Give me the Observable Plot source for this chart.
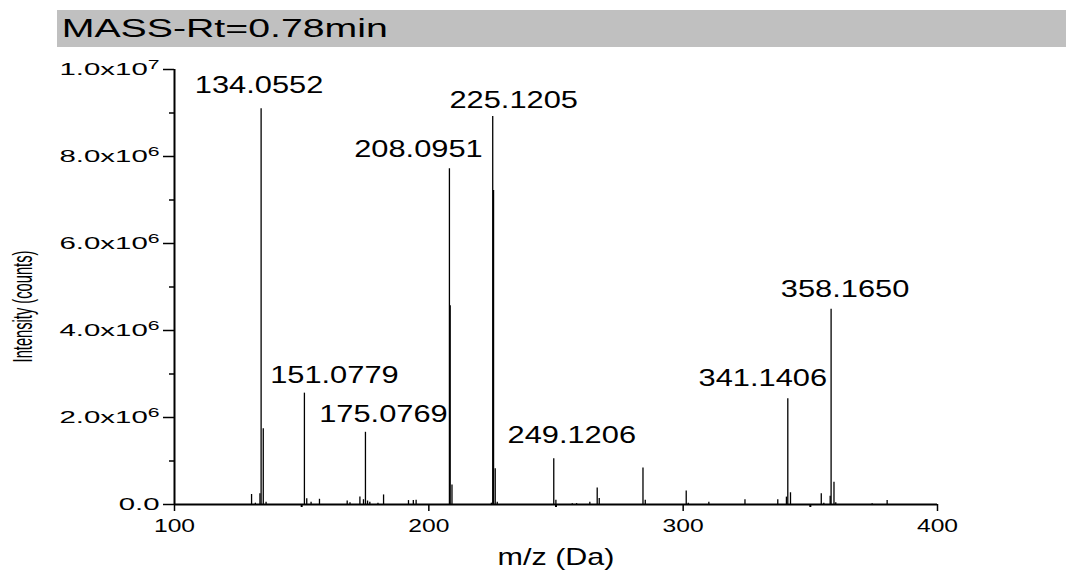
<!DOCTYPE html>
<html>
<head>
<meta charset="utf-8">
<script src="https://cdn.jsdelivr.net/npm/d3@7"></script>
<script src="https://cdn.jsdelivr.net/npm/@observablehq/plot@0.6"></script>
<style>
  html, body { margin: 0; padding: 0; background: #fff; width: 1066px; height: 572px; overflow: hidden; }
  #title { margin: 10px 0 0 57px; height: 37px; background: #c0c0c0; overflow: visible; white-space: nowrap; }
  #title span { display: inline-block; font-family: "Liberation Sans", Arial, sans-serif; font-size: 25px; line-height: 37px; color: #000; padding-left: 3px; transform: scaleX(1.57); transform-origin: 0 50%; }
  #chart { margin-top: 3px; }
  #chart svg { display: block; }
</style>
</head>
<body>
<div id="title"><span>MASS-Rt=0.78min</span></div>
<div id="chart"></div>
<script>
// ---- data (m/z in Da, intensity in counts) ----
const peakMz = [130.3, 131.8, 133.6, 134.0552, 134.9, 136.0,
  151.0779, 152.0, 153.7, 157.0, 167.9, 169.0, 172.9, 174.3, 175.0769, 175.9, 176.8, 180.0, 182.2,
  192.0, 193.9, 195.0, 208.0951, 208.4, 209.1, 224.6, 225.1205, 225.45, 226.1, 226.9,
  249.1206, 249.96, 256.4, 258.1, 263.3, 266.2, 267.0, 284.2, 285.1, 301.2, 302.0, 310.1,
  324.3, 337.2, 340.6, 341.1406, 342.2, 354.3, 355.3, 357.8, 358.1650, 359.3, 360.0, 374.3, 380.2];
const peakIntensity = [2.3e5, 3e4, 2.5e5, 9.10e6, 1.74e6, 5e4,
  2.56e6, 1.3e5, 5e4, 1.2e5, 8e4, 4e4, 1.7e5, 1.1e5, 1.66e6, 8e4, 5e4, 3e4, 2.2e5,
  9e4, 9e4, 1e5, 7.72e6, 4.57e6, 4.5e5, 3e4, 8.92e6, 7.22e6, 8.2e5, 5e4,
  1.05e6, 1e5, 2e4, 2e4, 5e4, 3.8e5, 1.4e5, 8.4e5, 1e5, 3.1e5, 3e4, 5e4,
  1.1e5, 1.1e5, 1.7e5, 2.43e6, 2.7e5, 2.5e5, 3e4, 1.9e5, 4.49e6, 5.1e5, 4e4, 2e4, 9e4];
const labelMz = [134.0552, 151.0779, 175.0769, 208.0951, 225.1205, 249.1206, 341.1406, 358.1650];
const xTicks = [100, 200, 300, 400];
const xMinorTicks = [150, 250, 350];
const yTicks = [0, 2e6, 4e6, 6e6, 8e6, 1e7];
const yMinorTicks = [1e6, 3e6, 5e6, 7e6, 9e6];
const xLabel = "m/z (Da)";
const yLabel = "Intensity (counts)";

// ---- build ----
const peaks = peakMz.map((m, i) => ({mz: m, intensity: peakIntensity[i]}));
const labels = labelMz.map(m => ({mz: m, intensity: peakIntensity[peakMz.indexOf(m)], text: m.toFixed(4)}));

// label placement (pixels): [dx, gap above peak top]
const labelPlace = {
  "134.0552": [-2, 15], "151.0779": [30, 10], "175.0769": [18, 10], "208.0951": [-31, 11],
  "225.1205": [21, 8], "249.1206": [18, 15], "341.1406": [-25, 12], "358.1650": [14, 12]
};

const yFmt = v => {
  if (v === 0) return "0.0";
  const e = Math.floor(Math.log10(v));
  return (v / 10 ** e).toFixed(1) + "x10" + e;
};

const labelMarks = labels.map(d => {
  const [dx, gap] = labelPlace[d.text];
  return Plot.text([d], {x: "mz", y: "intensity", text: "text", dx, dy: -(gap + 16.7),
    lineAnchor: "top", textAnchor: "middle", fontSize: 23, fill: "#000"});
});

const chart = Plot.plot({
  width: 1066, height: 522,
  marginLeft: 174, marginRight: 129, marginTop: 19, marginBottom: 68,
  style: {fontFamily: "'Liberation Sans', Arial, sans-serif", color: "#000", background: "#fff", overflow: "visible"},
  x: {domain: [100, 400]},
  y: {domain: [0, 1e7]},
  marks: [
    Plot.ruleX(peaks, {x: "mz", y1: 0, y2: "intensity", stroke: "#000", strokeWidth: 1.3}),
    Plot.axisY({ticks: yMinorTicks, tickSize: 5, tickFormat: () => "", label: null, strokeWidth: 1.5}),
    Plot.axisY({ticks: yTicks, tickSize: 11, tickPadding: 4, tickFormat: yFmt, label: null, fontSize: 17.3, strokeWidth: 1.5}),
    Plot.axisX({ticks: xMinorTicks, tickSize: 3, tickFormat: () => "", label: null, strokeWidth: 2}),
    Plot.axisX({ticks: xTicks, tickSize: 7, tickPadding: 8, label: null, fontSize: 18, strokeWidth: 1.5}),
    Plot.ruleX([100], {stroke: "#000", strokeWidth: 2}),
    Plot.ruleY([0], {stroke: "#000", strokeWidth: 2}),
    ...labelMarks,
    Plot.text([xLabel], {frameAnchor: "bottom", lineAnchor: "top", dy: 43, fontSize: 24, fill: "#000"}),
    Plot.text([yLabel], {frameAnchor: "left", textAnchor: "middle", lineAnchor: "middle", rotate: -90, dx: -151, dy: 19.5, fontSize: 14.7, fill: "#000"})
  ]
});
document.getElementById("chart").appendChild(chart);

// horizontal stretch of glyphs as in the source image, and superscript exponents
const svgEl = chart.tagName.toLowerCase() === "svg" ? chart : chart.querySelector("svg");
svgEl.querySelectorAll("text").forEach(t => {
  const s = t.textContent.trim();
  if (!s) return;
  const tr = t.getAttribute("transform") || "";
  if (s === yLabel) {
    t.setAttribute("transform", tr + " scale(1,1.9)");
    return;
  }
  let k = 1;
  if (/^\d+\.\d{4}$/.test(s)) k = 1.34;
  else if (s === "0.0" || /x10\d+$/.test(s)) k = 1.7;
  else if (/^\d{3}$/.test(s)) k = 1.37;
  else if (s === xLabel) k = 1.27;
  const m = s.match(/^(.*x10)(\d+)$/);
  if (m) {
    t.textContent = m[1];
    const sp = document.createElementNS("http://www.w3.org/2000/svg", "tspan");
    sp.setAttribute("dy", "-0.5em");
    sp.setAttribute("font-size", "0.72em");
    sp.textContent = m[2];
    t.appendChild(sp);
  }
  t.setAttribute("transform", `${tr} scale(${k},1)`);
});
</script>
</body>
</html>
